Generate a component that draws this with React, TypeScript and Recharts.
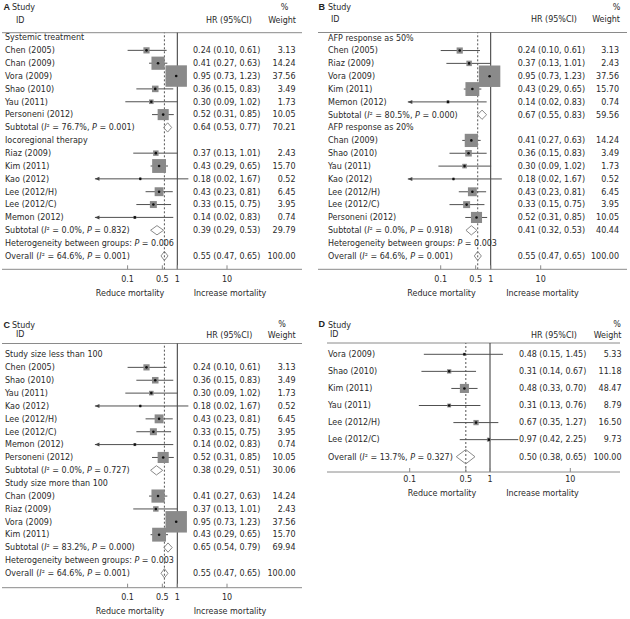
import React from 'react'
import { ScatterChart, Scatter, XAxis, YAxis, ErrorBar, ReferenceLine } from 'recharts'

// [kind, label, HR, lower, upper, weight]  h = heading, s = study, d = pooled (diamond)
type Kind = 'h' | 's' | 'd'
type Row = [Kind, string, number?, number?, number?, number?]

const ROWS_A: Row[] = [
  ['h', 'Systemic treatment'],
  ['s', 'Chen (2005)', 0.24, 0.1, 0.61, 3.13],
  ['s', 'Chan (2009)', 0.41, 0.27, 0.63, 14.24],
  ['s', 'Vora (2009)', 0.95, 0.73, 1.23, 37.56],
  ['s', 'Shao (2010)', 0.36, 0.15, 0.83, 3.49],
  ['s', 'Yau (2011)', 0.3, 0.09, 1.02, 1.73],
  ['s', 'Personeni (2012)', 0.52, 0.31, 0.85, 10.05],
  ['d', 'Subtotal (I² = 76.7%, P = 0.001)', 0.64, 0.53, 0.77, 70.21],
  ['h', 'Iocoregional therapy'],
  ['s', 'Riaz (2009)', 0.37, 0.13, 1.01, 2.43],
  ['s', 'Kim (2011)', 0.43, 0.29, 0.65, 15.7],
  ['s', 'Kao (2012)', 0.18, 0.02, 1.67, 0.52],
  ['s', 'Lee (2012/H)', 0.43, 0.23, 0.81, 6.45],
  ['s', 'Lee (2012/C)', 0.33, 0.15, 0.75, 3.95],
  ['s', 'Memon (2012)', 0.14, 0.02, 0.83, 0.74],
  ['d', 'Subtotal (I² = 0.0%, P = 0.832)', 0.39, 0.29, 0.53, 29.79],
  ['h', 'Heterogeneity between groups: P = 0.006'],
  ['d', 'Overall (I² = 64.6%, P = 0.001)', 0.55, 0.47, 0.65, 100],
]

const ROWS_B: Row[] = [
  ['h', 'AFP response as 50%'],
  ['s', 'Chen (2005)', 0.24, 0.1, 0.61, 3.13],
  ['s', 'Riaz (2009)', 0.37, 0.13, 1.01, 2.43],
  ['s', 'Vora (2009)', 0.95, 0.73, 1.23, 37.56],
  ['s', 'Kim (2011)', 0.43, 0.29, 0.65, 15.7],
  ['s', 'Memon (2012)', 0.14, 0.02, 0.83, 0.74],
  ['d', 'Subtotal (I² = 80.5%, P = 0.000)', 0.67, 0.55, 0.83, 59.56],
  ['h', 'AFP response as 20%'],
  ['s', 'Chan (2009)', 0.41, 0.27, 0.63, 14.24],
  ['s', 'Shao (2010)', 0.36, 0.15, 0.83, 3.49],
  ['s', 'Yau (2011)', 0.3, 0.09, 1.02, 1.73],
  ['s', 'Kao (2012)', 0.18, 0.02, 1.67, 0.52],
  ['s', 'Lee (2012/H)', 0.43, 0.23, 0.81, 6.45],
  ['s', 'Lee (2012/C)', 0.33, 0.15, 0.75, 3.95],
  ['s', 'Personeni (2012)', 0.52, 0.31, 0.85, 10.05],
  ['d', 'Subtotal (I² = 0.0%, P = 0.918)', 0.41, 0.32, 0.53, 40.44],
  ['h', 'Heterogeneity between groups: P = 0.003'],
  ['d', 'Overall (I² = 64.6%, P = 0.001)', 0.55, 0.47, 0.65, 100],
]

const ROWS_C: Row[] = [
  ['h', 'Study size less than 100'],
  ['s', 'Chen (2005)', 0.24, 0.1, 0.61, 3.13],
  ['s', 'Shao (2010)', 0.36, 0.15, 0.83, 3.49],
  ['s', 'Yau (2011)', 0.3, 0.09, 1.02, 1.73],
  ['s', 'Kao (2012)', 0.18, 0.02, 1.67, 0.52],
  ['s', 'Lee (2012/H)', 0.43, 0.23, 0.81, 6.45],
  ['s', 'Lee (2012/C)', 0.33, 0.15, 0.75, 3.95],
  ['s', 'Memon (2012)', 0.14, 0.02, 0.83, 0.74],
  ['s', 'Personeni (2012)', 0.52, 0.31, 0.85, 10.05],
  ['d', 'Subtotal (I² = 0.0%, P = 0.727)', 0.38, 0.29, 0.51, 30.06],
  ['h', 'Study size more than 100'],
  ['s', 'Chan (2009)', 0.41, 0.27, 0.63, 14.24],
  ['s', 'Riaz (2009)', 0.37, 0.13, 1.01, 2.43],
  ['s', 'Vora (2009)', 0.95, 0.73, 1.23, 37.56],
  ['s', 'Kim (2011)', 0.43, 0.29, 0.65, 15.7],
  ['d', 'Subtotal (I² = 83.2%, P = 0.000)', 0.65, 0.54, 0.79, 69.94],
  ['h', 'Heterogeneity between groups: P = 0.003'],
  ['d', 'Overall (I² = 64.6%, P = 0.001)', 0.55, 0.47, 0.65, 100],
]

const ROWS_D: Row[] = [
  ['s', 'Vora (2009)', 0.48, 0.15, 1.45, 5.33],
  ['s', 'Shao (2010)', 0.31, 0.14, 0.67, 11.18],
  ['s', 'Kim (2011)', 0.48, 0.33, 0.7, 48.47],
  ['s', 'Yau (2011)', 0.31, 0.13, 0.76, 8.79],
  ['s', 'Lee (2012/H)', 0.67, 0.35, 1.27, 16.5],
  ['s', 'Lee (2012/C)', 0.97, 0.42, 2.25, 9.73],
  ['d', 'Overall (I² = 13.7%, P = 0.327)', 0.5, 0.38, 0.65, 100],
]

const PANEL_ROWS = [ROWS_A, ROWS_B, ROWS_C, ROWS_D]
const PANEL_LETTERS = ['A', 'B', 'C', 'D']
const AXIS_TICKS = [0.1, 0.5, 1, 10]
const HEAD_STUDY = 'Study'
const HEAD_ID = 'ID'
const HEAD_HR = 'HR (95%CI)'
const HEAD_PCT = '%'
const HEAD_WEIGHT = 'Weight'
const CAPTION_LEFT = 'Reduce mortality'
const CAPTION_RIGHT = 'Increase mortality'
const ARROW_CLIP = 0.022

const FONT = '"DejaVu Sans", Verdana, sans-serif'
const INK = '#2a2a2a'
const AXIS_H = 20

type XY = [number, number]
interface Layout {
  left: number
  top: number
  width: number
  height: number
  onePx: number
  decadePx: number
  plotX: XY
  plotY: XY
  row0: number
  rowPx: number
  labelX: number
  hrX: number
  weightX: number
  box: number
  diamond: number
  tickMargin: number
  letter: XY
  study: XY
  id: XY
  hrHead: XY
  pct: XY
  weightHead: XY
  reduce: XY
  increase: XY
}

// all positions in page pixels
const LAYOUTS: Layout[] = [
  {
    left: 0, top: 0, width: 310, height: 305,
    onePx: 177.3, decadePx: 49.7, plotX: [2, 302], plotY: [32.7, 269.3],
    row0: 37.5, rowPx: 12.85, labelX: 5, hrX: 193, weightX: 295.5,
    box: 3.5, diamond: 0.36, tickMargin: 11.5,
    letter: [3.5, 7], study: [12, 7], id: [16, 20], hrHead: [252, 20], pct: [284.5, 7], weightHead: [296, 20],
    reduce: [130, 293], increase: [230, 293],
  },
  {
    left: 315, top: 0, width: 315, height: 305,
    onePx: 490.7, decadePx: 50, plotX: [318, 627], plotY: [32.5, 269.3],
    row0: 37.7, rowPx: 12.84, labelX: 328, hrX: 517.7, weightX: 619,
    box: 3.5, diamond: 0.36, tickMargin: 11.2,
    letter: [318.5, 7], study: [328, 7], id: [331, 19.5], hrHead: [577, 19.5], pct: [616.5, 7], weightHead: [620, 19.5],
    reduce: [441.5, 293], increase: [542.5, 293],
  },
  {
    left: 0, top: 310, width: 310, height: 309,
    onePx: 177.3, decadePx: 49.7, plotX: [2, 302], plotY: [343.5, 587.7],
    row0: 354.5, rowPx: 12.87, labelX: 5, hrX: 193, weightX: 295.5,
    box: 3.5, diamond: 0.36, tickMargin: 11,
    letter: [3.5, 324.5], study: [12, 325], id: [16, 334.5], hrHead: [252.3, 335], pct: [282, 324], weightHead: [295.7, 335],
    reduce: [130, 611], increase: [230, 611],
  },
  {
    left: 315, top: 310, width: 315, height: 309,
    onePx: 490, decadePx: 80.3, plotX: [327, 620], plotY: [343, 472],
    row0: 354.3, rowPx: 17.07, labelX: 328, hrX: 519, weightX: 621.5,
    box: 1.3, diamond: 0.42, tickMargin: 8.7,
    letter: [318.5, 324], study: [328, 325], id: [330, 334], hrHead: [577, 335], pct: [617, 324], weightHead: [621.5, 335],
    reduce: [442, 493.5], increase: [542.5, 493.5],
  },
]

const f2 = (v: number) => v.toFixed(2)

function richLabel(label: string) {
  return label.split(/(I²|\bP\b)/).map((part, k) => {
    if (part === 'I²') {
      return (
        <tspan key={k}>
          <tspan fontStyle="italic">I</tspan>²
        </tspan>
      )
    }
    if (part === 'P') return <tspan key={k} fontStyle="italic">P</tspan>
    return <tspan key={k}>{part}</tspan>
  })
}

const Empty = () => <g />

function ForestPanel({ rows, L }: { rows: Row[]; L: Layout }) {
  const data = rows.map((r, i) => ({
    x: 1,
    y: i,
    kind: r[0],
    label: r[1],
    hr: r[2],
    lo: r[3],
    hi: r[4],
    w: r[5],
  }))
  const studies = data
    .filter((d) => d.kind === 's')
    .map((d) => ({
      ...d,
      x: d.hr as number,
      err: [(d.hr as number) - Math.max(d.lo as number, ARROW_CLIP), (d.hi as number) - (d.hr as number)],
    }))
  const arrows = studies.filter((d) => (d.lo as number) < ARROW_CLIP).map((d) => ({ x: ARROW_CLIP, y: d.y }))
  const pooled = data.filter((d) => d.kind === 'd')
  const overall = pooled[pooled.length - 1].hr as number

  const xDomain: XY = [
    10 ** ((L.plotX[0] - L.onePx) / L.decadePx),
    10 ** ((L.plotX[1] - L.onePx) / L.decadePx),
  ]
  const yDomain: XY = [(L.plotY[0] - L.row0) / L.rowPx, (L.plotY[1] - L.row0) / L.rowPx]
  const margin = {
    top: L.plotY[0] - L.top,
    left: L.plotX[0] - L.left,
    right: L.left + L.width - L.plotX[1],
    bottom: L.top + L.height - L.plotY[1] - AXIS_H,
  }
  const tx = (px: number) => px - L.left

  const rowText = (p: any) => {
    const d = p.payload
    const y = p.cy
    const common = { fontSize: 8, fontFamily: FONT, fill: INK, dy: '0.35em' }
    return (
      <g>
        <text x={tx(L.labelX)} y={y} {...common}>
          {richLabel(d.label)}
        </text>
        {d.hr != null && (
          <text x={tx(L.hrX)} y={y} {...common}>
            {`${f2(d.hr)} (${f2(d.lo)}, ${f2(d.hi)})`}
          </text>
        )}
        {d.w != null && (
          <text x={tx(L.weightX)} y={y} textAnchor="end" {...common}>
            {f2(d.w)}
          </text>
        )}
      </g>
    )
  }

  const square = (p: any) => {
    const s = L.box * Math.sqrt(p.payload.w)
    return <rect x={p.cx - s / 2} y={p.cy - s / 2} width={s} height={s} fill="#8a8a8a" />
  }
  const dot = (p: any) => <circle cx={p.cx} cy={p.cy} r={1.3} fill="#111" />
  const arrow = (p: any) => (
    <polygon points={`${p.cx},${p.cy} ${p.cx + 4.5},${p.cy - 2} ${p.cx + 4.5},${p.cy + 2}`} fill="#444" />
  )

  return (
    <div style={{ position: 'absolute', left: L.left, top: L.top }}>
      <ScatterChart width={L.width} height={L.height} margin={margin}>
        <XAxis
          type="number"
          dataKey="x"
          scale="log"
          domain={xDomain}
          ticks={AXIS_TICKS}
          interval={0}
          tickFormatter={(v: number) => String(v)}
          height={AXIS_H}
          tickSize={-4}
          tickMargin={L.tickMargin}
          axisLine={{ stroke: '#8a8a8a' }}
          tickLine={{ stroke: '#8a8a8a' }}
          tick={{ fontSize: 8, fill: INK, fontFamily: FONT }}
        />
        <YAxis type="number" dataKey="y" domain={yDomain} reversed hide width={0} />
        <ReferenceLine y={yDomain[0]} stroke="#8a8a8a" ifOverflow="visible" />
        <ReferenceLine x={1} stroke="#333" ifOverflow="visible" />
        <ReferenceLine x={overall} stroke="#555" strokeDasharray="2 2" ifOverflow="visible" />
        <Scatter data={studies} shape={square} isAnimationActive={false} />
        <Scatter data={studies} shape={dot} isAnimationActive={false}>
          <ErrorBar dataKey="err" direction="x" width={0} stroke="#505050" strokeWidth={1} isAnimationActive={false} />
        </Scatter>
        <Scatter data={arrows} shape={arrow} isAnimationActive={false} />
        {pooled.map((d) => (
          <Scatter
            key={d.y}
            data={[
              { x: d.lo, y: d.y },
              { x: d.hr, y: d.y - L.diamond },
              { x: d.hi, y: d.y },
              { x: d.hr, y: d.y + L.diamond },
              { x: d.lo, y: d.y },
            ]}
            line={{ stroke: '#8a8a8a', strokeWidth: 1 }}
            shape={Empty}
            isAnimationActive={false}
          />
        ))}
        <Scatter data={data} shape={rowText} isAnimationActive={false} />
      </ScatterChart>
    </div>
  )
}

function Headings() {
  const t = { fontSize: 8, fontFamily: FONT, fill: INK, dy: '0.35em' }
  return (
    <svg
      width={630}
      height={619}
      style={{ position: 'absolute', left: 0, top: 0, pointerEvents: 'none' }}
    >
      {LAYOUTS.map((L, i) => (
        <g key={i}>
          <text
            x={L.letter[0]}
            y={L.letter[1]}
            dy="0.36em"
            fontSize={9}
            fontWeight="bold"
            fontFamily='"Liberation Sans", Arial, sans-serif'
            fill="#222"
          >
            {PANEL_LETTERS[i]}
          </text>
          <text x={L.study[0]} y={L.study[1]} {...t}>{HEAD_STUDY}</text>
          <text x={L.id[0]} y={L.id[1]} {...t}>{HEAD_ID}</text>
          <text x={L.hrHead[0]} y={L.hrHead[1]} textAnchor="end" {...t}>{HEAD_HR}</text>
          <text x={L.pct[0]} y={L.pct[1]} textAnchor="middle" {...t}>{HEAD_PCT}</text>
          <text x={L.weightHead[0]} y={L.weightHead[1]} textAnchor="end" {...t}>{HEAD_WEIGHT}</text>
          <text x={L.reduce[0]} y={L.reduce[1]} textAnchor="middle" {...t}>{CAPTION_LEFT}</text>
          <text x={L.increase[0]} y={L.increase[1]} textAnchor="middle" {...t}>{CAPTION_RIGHT}</text>
        </g>
      ))}
    </svg>
  )
}

export default function App() {
  return (
    <div
      style={{
        position: 'absolute',
        left: 0,
        top: 0,
        width: 630,
        height: 619,
        background: '#fff',
        fontFamily: FONT,
        overflow: 'hidden',
      }}
    >
      {PANEL_ROWS.map((rows, i) => (
        <ForestPanel key={i} rows={rows} L={LAYOUTS[i]} />
      ))}
      <Headings />
    </div>
  )
}
